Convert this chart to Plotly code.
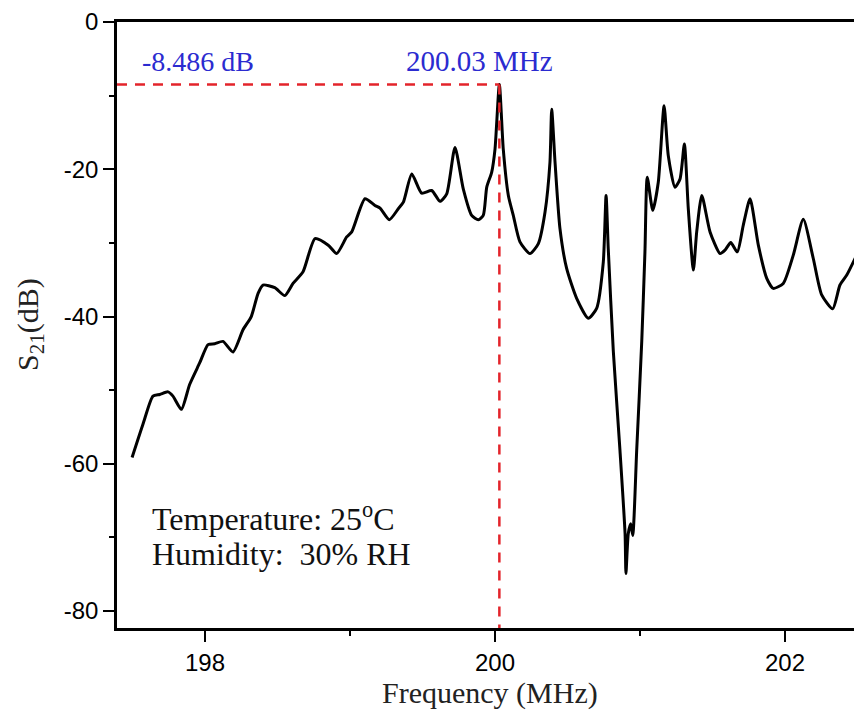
import plotly.graph_objects as go

# Frequency (MHz) and S21 (dB)
freq_mhz = [
    197.497, 197.572, 197.641, 197.688, 197.745, 197.779, 197.837, 197.894, 197.963,
    198.021, 198.067, 198.124, 198.193, 198.262, 198.319, 198.366, 198.400, 198.481,
    198.550, 198.607, 198.676, 198.759, 198.850, 198.908, 198.977, 199.012, 199.103,
    199.172, 199.207, 199.271, 199.333, 199.368, 199.426, 199.494, 199.563, 199.621,
    199.667, 199.724, 199.781, 199.839, 199.885, 199.919, 199.943, 199.977, 200.000,
    200.030, 200.057, 200.092, 200.126, 200.172, 200.241, 200.299, 200.345, 200.379,
    200.391, 200.414, 200.448, 200.494, 200.563, 200.643, 200.701, 200.747, 200.766,
    200.781, 200.816, 200.862, 200.897, 200.903, 200.919, 200.936, 200.950, 200.977,
    201.012, 201.034, 201.050, 201.088, 201.126, 201.166, 201.195, 201.241, 201.276,
    201.306, 201.333, 201.368, 201.391, 201.426, 201.483, 201.552, 201.586, 201.626,
    201.671, 201.712, 201.759, 201.816, 201.874, 201.919, 201.988, 202.057, 202.126,
    202.195, 202.253, 202.329, 202.379, 202.426, 202.494,
]
s21_db = [
    -59.15, -54.64, -50.81, -50.58, -50.23, -50.81, -52.61, -49.23, -46.31,
    -43.82, -43.69, -43.38, -44.82, -41.80, -40.00, -36.85, -35.72, -36.08,
    -37.16, -35.50, -33.92, -29.42, -30.31, -31.45, -29.19, -28.51, -24.01,
    -24.91, -25.27, -26.85, -25.36, -24.46, -20.64, -23.24, -22.88, -24.36,
    -23.34, -17.03, -22.66, -26.26, -26.85, -26.26, -22.43, -20.41, -17.26,
    -8.486, -17.26, -23.55, -26.26, -29.86, -31.45, -30.09, -25.81, -19.05,
    -11.85, -19.05, -28.07, -33.47, -37.53, -40.23, -38.88, -32.57, -23.55,
    -30.77, -44.73, -58.24, -69.50, -74.90, -69.50, -68.15, -69.73, -58.24,
    -43.38, -31.22, -21.08, -25.58, -21.76, -11.39, -18.15, -22.43, -21.31,
    -16.58, -25.36, -33.69, -28.51, -23.55, -28.51, -31.45, -30.99, -29.96,
    -31.22, -27.61, -24.01, -30.31, -34.82, -36.18, -35.50, -31.66, -26.80,
    -32.12, -37.07, -38.96, -35.72, -34.36, -31.66,
]

peak_freq = 200.03
peak_db = -8.486
x_range = [197.393, 202.531]
y_range = [-82.3, 0]
x_tick_vals = [198, 200, 202]
y_tick_vals = [0, -20, -40, -60, -80]

SERIF = "Liberation Serif, Times New Roman, serif"
SANS = "Liberation Sans, Arial, sans-serif"
BLUE = "#2b2bd0"
RED = "#e3242b"

fig = go.Figure()
fig.add_trace(go.Scatter(
    x=freq_mhz, y=s21_db, mode="lines",
    line=dict(color="black", width=3, shape="spline", smoothing=0.6),
    showlegend=False, hoverinfo="skip",
))

# peak marker dashed lines
fig.add_shape(type="line", xref="x", yref="y",
              x0=x_range[0], x1=peak_freq, y0=peak_db, y1=peak_db,
              line=dict(color=RED, width=2.5, dash="10px,8px"))
fig.add_shape(type="line", xref="x", yref="y",
              x0=peak_freq, x1=peak_freq, y0=peak_db, y1=y_range[0],
              line=dict(color=RED, width=2.5, dash="10px,8px"))

fig.add_annotation(x=197.552, y=-5.3, xref="x", yref="y", text="-8.486 dB",
                   showarrow=False, xanchor="left", yanchor="middle",
                   font=dict(family=SERIF, size=28, color=BLUE))
fig.add_annotation(x=199.372, y=-5.3, xref="x", yref="y", text="200.03 MHz",
                   showarrow=False, xanchor="left", yanchor="middle",
                   font=dict(family=SERIF, size=29, color=BLUE))
fig.add_annotation(x=197.62, y=-67.2, xref="x", yref="y",
                   text="Temperature: 25<sup>o</sup>C",
                   showarrow=False, xanchor="left", yanchor="middle", align="left",
                   font=dict(family=SERIF, size=32, color="#111111"))
fig.add_annotation(x=197.62, y=-72.3, xref="x", yref="y",
                   text="Humidity:\u00a0 30% RH",
                   showarrow=False, xanchor="left", yanchor="middle", align="left",
                   font=dict(family=SERIF, size=32, color="#111111"))

# axis titles
fig.add_annotation(x=0.5, y=0, xref="paper", yref="paper", yshift=-65,
                   text="Frequency (MHz)", showarrow=False,
                   xanchor="center", yanchor="middle",
                   font=dict(family=SERIF, size=30, color="#222222"))
fig.add_annotation(x=0, y=0.5, xref="paper", yref="paper", xshift=-87,
                   text="S<sub>21</sub>(dB)", showarrow=False, textangle=-90,
                   xanchor="center", yanchor="middle",
                   font=dict(family=SERIF, size=30, color="#222222"))

# the page body adds an 8px offset, so the figure is sized to compensate
fig.update_layout(
    width=854, height=709,
    margin=dict(l=109, r=0, t=11, b=89),
    paper_bgcolor="white", plot_bgcolor="white",
    showlegend=False,
)
fig.update_xaxes(
    range=x_range, tickvals=x_tick_vals, ticktext=[str(v) for v in x_tick_vals],
    ticks="outside", ticklen=11, tickwidth=2, tickcolor="black",
    showline=True, linecolor="black", linewidth=2.5, mirror=True,
    showgrid=False, zeroline=False, ticklabeloverflow="allow",
    tickfont=dict(family=SANS, size=24, color="black"),
    minor=dict(dtick=1, tick0=0, ticks="outside", ticklen=5, tickwidth=2, tickcolor="black", showgrid=False),
)
fig.update_yaxes(
    range=y_range, tickvals=y_tick_vals, ticktext=[str(v) for v in y_tick_vals],
    ticks="outside", ticklen=11, tickwidth=2, tickcolor="black",
    showline=True, linecolor="black", linewidth=2.5, mirror=False,
    showgrid=False, zeroline=False, ticklabeloverflow="allow",
    tickfont=dict(family=SANS, size=24, color="black"),
    minor=dict(dtick=10, tick0=0, ticks="outside", ticklen=5, tickwidth=2, tickcolor="black", showgrid=False),
)

fig.write_html("out.html")
